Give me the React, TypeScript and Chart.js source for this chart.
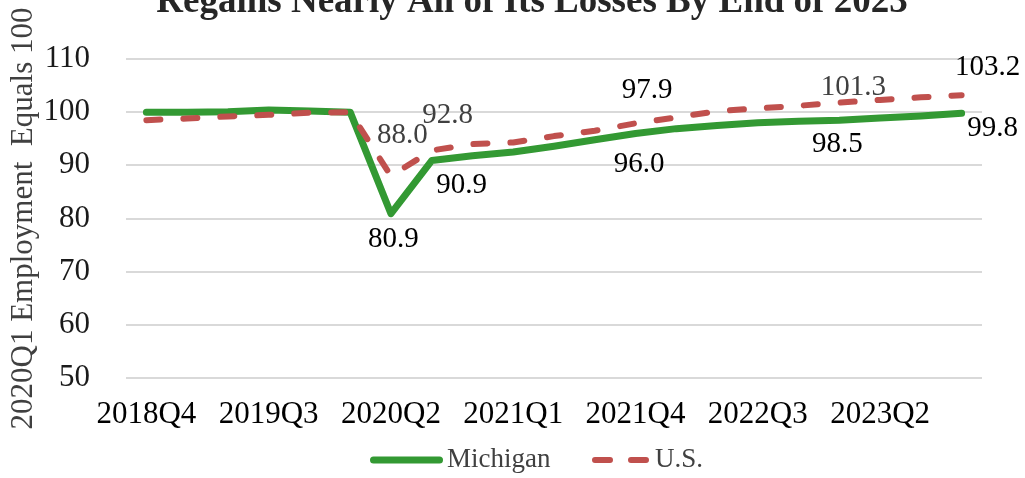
import React, { useEffect, useRef } from "react";
import { Chart, registerables } from "chart.js";

Chart.register(...registerables);

// ---- data ----
const quarters = [
  "2018Q4", "2019Q1", "2019Q2", "2019Q3", "2019Q4",
  "2020Q1", "2020Q2", "2020Q3", "2020Q4",
  "2021Q1", "2021Q2", "2021Q3", "2021Q4",
  "2022Q1", "2022Q2", "2022Q3", "2022Q4",
  "2023Q1", "2023Q2", "2023Q3", "2023Q4",
];
const tickEvery = 3;

const michigan = [
  100.0, 100.0, 100.1, 100.4, 100.2,
  100.0, 80.9, 90.9, 91.8,
  92.5, 93.6, 94.8, 96.0,
  96.9, 97.5, 98.0, 98.3,
  98.5, 98.9, 99.3, 99.8,
];
const us = [
  98.5, 98.8, 99.2, 99.5, 99.9,
  100.0, 88.0, 92.8, 94.0,
  94.3, 95.5, 96.5, 97.9,
  99.0, 100.2, 100.7, 101.2,
  101.8, 102.3, 102.8, 103.2,
];

// data labels shown in the chart: [quarter index, text]
const michiganLabels: [number, string][] = [
  [6, "80.9"], [7, "90.9"], [12, "96.0"], [17, "98.5"], [20, "99.8"],
];
const usLabels: [number, string][] = [
  [6, "88.0"], [7, "92.8"], [12, "97.9"], [17, "101.3"], [20, "103.2"],
];

const yMin = 50;
const yMax = 110;
const yStep = 10;

const titleText = "Regains Nearly All of Its Losses By End of 2023";
const yTitle = "2020Q1 Employment  Equals 100";
const seriesNames = ["Michigan", "U.S."];

// ---- styles ----
const GREEN = "#339933";
const RED = "#c0504d";
const SERIF = '"Liberation Serif", "Times New Roman", serif';

// label offsets (pixels from the point), per label, same order as label arrays
const michiganLabelStyle = [
  { dx: 2.5, dy: 25.5, color: "#000" },
  { dx: 30, dy: 25, color: "#000" },
  { dx: 3.5, dy: 31, color: "#000" },
  { dx: -2, dy: 24, color: "#000" },
  { dx: 31, dy: 15, color: "#000" },
];
const usLabelStyle = [
  { dx: 11.5, dy: -41, color: "#404040" },
  { dx: 16, dy: -35, color: "#404040" },
  { dx: 11.5, dy: -33, color: "#000" },
  { dx: 14, dy: -15, color: "#404040" },
  { dx: 26, dy: -27.5, color: "#000" },
];

const labelsPlugin = {
  id: "dataLabels",
  afterDatasetsDraw(chart: any) {
    const ctx = chart.ctx;
    ctx.save();
    ctx.font = `29px ${SERIF}`;
    ctx.textAlign = "center";
    ctx.textBaseline = "middle";
    const draw = (di: number, list: [number, string][], style: any[]) => {
      const meta = chart.getDatasetMeta(di);
      list.forEach(([idx, text], k) => {
        const pt = meta.data[idx];
        if (!pt) return;
        ctx.fillStyle = style[k].color;
        ctx.fillText(text, pt.x + style[k].dx, pt.y + style[k].dy);
      });
    };
    draw(0, michiganLabels, michiganLabelStyle);
    draw(1, usLabels, usLabelStyle);
    ctx.restore();
  },
};

const titlePlugin = {
  id: "cutTitle",
  afterDraw(chart: any) {
    const ctx = chart.ctx;
    ctx.save();
    ctx.font = `bold 37px ${SERIF}`;
    ctx.fillStyle = "#262626";
    ctx.textAlign = "center";
    ctx.textBaseline = "alphabetic";
    ctx.fillText(titleText, 532, 11.5);
    ctx.restore();
  },
};

const legendPlugin = {
  id: "customLegend",
  afterDraw(chart: any) {
    const ctx = chart.ctx;
    const y = 460;
    ctx.save();
    ctx.lineCap = "round";
    // Michigan
    ctx.strokeStyle = GREEN;
    ctx.lineWidth = 7;
    ctx.setLineDash([]);
    ctx.beginPath();
    ctx.moveTo(373.5, y);
    ctx.lineTo(439.5, y);
    ctx.stroke();
    // U.S.
    ctx.strokeStyle = RED;
    ctx.lineWidth = 6;
    ctx.setLineDash([15, 21]);
    ctx.beginPath();
    ctx.moveTo(595, y);
    ctx.lineTo(647, y);
    ctx.stroke();
    ctx.setLineDash([]);
    ctx.font = `27px ${SERIF}`;
    ctx.fillStyle = "#404040";
    ctx.textAlign = "left";
    ctx.textBaseline = "middle";
    ctx.fillText(seriesNames[0], 447, y);
    ctx.fillText(seriesNames[1], 655, y);
    ctx.restore();
  },
};

export default function App() {
  const ref = useRef<HTMLCanvasElement>(null);
  useEffect(() => {
    if (!ref.current) return;
    const chart = new Chart(ref.current, {
      type: "line",
      data: {
        labels: quarters,
        datasets: [
          {
            label: seriesNames[0],
            data: michigan,
            borderColor: GREEN,
            backgroundColor: GREEN,
            borderWidth: 7,
            pointRadius: 0,
            tension: 0,
            borderCapStyle: "round",
            borderJoinStyle: "round",
            order: 2,
          },
          {
            label: seriesNames[1],
            data: us,
            borderColor: RED,
            backgroundColor: RED,
            borderWidth: 6,
            borderDash: [14, 23],
            pointRadius: 0,
            tension: 0,
            borderCapStyle: "round",
            borderJoinStyle: "round",
            order: 1,
          },
        ],
      },
      options: {
        responsive: false,
        animation: false,
        devicePixelRatio: 1,
        layout: { padding: { top: 59, right: 43, bottom: 26.8, left: 0 } },
        plugins: {
          legend: { display: false },
          title: { display: false },
          tooltip: { enabled: false },
        },
        scales: {
          x: {
            type: "category",
            offset: true,
            grid: { display: false, drawTicks: false },
            border: { display: false },
            ticks: {
              autoSkip: false,
              maxRotation: 0,
              minRotation: 0,
              padding: 18,
              color: "#000",
              font: { family: SERIF, size: 31, lineHeight: 1.2 },
              callback: (_v: any, i: number) => (i % tickEvery === 0 ? quarters[i] : ""),
            },
          },
          y: {
            min: yMin,
            max: yMax,
            grid: { color: "#d9d9d9", lineWidth: 2, drawTicks: false },
            border: { display: false },
            ticks: {
              stepSize: yStep,
              padding: 36,
              color: "#1a1a1a",
              font: { family: SERIF, size: 31, lineHeight: 1.2 },
            },
            title: {
              display: true,
              text: yTitle,
              color: "#404040",
              font: { family: SERIF, size: 31, lineHeight: 1 },
              padding: { top: 8, bottom: -31.5 },
            },
          },
        },
      },
      plugins: [labelsPlugin, titlePlugin, legendPlugin],
    });
    return () => chart.destroy();
  }, []);
  return (
    <div style={{ position: "fixed", left: 0, top: 0, width: 1025, height: 478 }}>
      <canvas ref={ref} width={1025} height={478} style={{ display: "block" }} />
    </div>
  );
}
